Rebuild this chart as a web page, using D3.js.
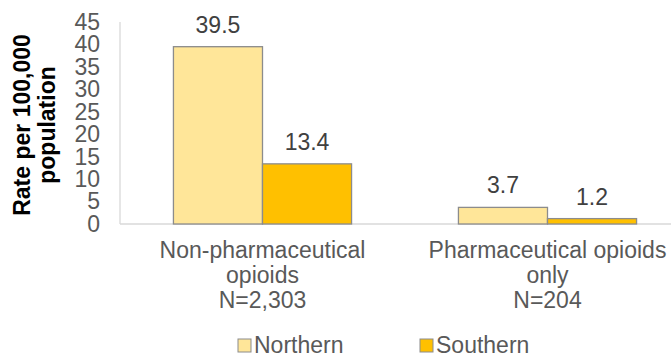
<!DOCTYPE html>
<html><head><meta charset="utf-8">
<script src="https://cdn.jsdelivr.net/npm/d3@7"></script>
<style>
html,body{margin:0;padding:0;background:#fff;}
text{font-family:"Liberation Sans",Arial,sans-serif;}
</style></head>
<body>
<script>
const categories = [["Non-pharmaceutical","opioids","N=2,303"],["Pharmaceutical opioids","only","N=204"]];
const categoryKeys = ["Non-pharmaceutical opioids","Pharmaceutical opioids only"];
const seriesNames = ["Northern","Southern"];
const northern = [39.5, 3.7];
const southern = [13.4, 1.2];
const yTicks = [0,5,10,15,20,25,30,35,40,45];
const colors = ["#FFE699","#FFC000"];

const W = 671, H = 356;
const FS = 23;
const svg = d3.select("body").append("svg").attr("width",W).attr("height",H);

const y = d3.scaleLinear().domain([0,45]).range([224,22]);
const x0 = d3.scaleBand().domain(categoryKeys).range([120,690]).padding(0);
const x1 = d3.scaleBand().domain(seriesNames).range([0,x0.bandwidth()]).paddingInner(0).paddingOuter(0.6);

const textColor = "#595959";
// axes lines
svg.append("line").attr("x1",120).attr("x2",120).attr("y1",y(45)).attr("y2",y(0)).attr("stroke","#d9d9d9").attr("stroke-width",1.3);
svg.append("line").attr("x1",120).attr("x2",W).attr("y1",y(0)).attr("y2",y(0)).attr("stroke","#d9d9d9").attr("stroke-width",1.3);

// y tick labels
const yAxis = d3.axisLeft(y).tickValues(yTicks).tickSize(0).tickPadding(0);
const ga = svg.append("g").attr("transform","translate(100,0)").call(yAxis);
ga.select(".domain").remove();
ga.selectAll("text").attr("font-size",FS).attr("fill",textColor).attr("font-family","Liberation Sans, Arial, sans-serif");

// bars
const data = categoryKeys.map((c,i)=>({cat:c, vals:[{s:"Northern",v:northern[i]},{s:"Southern",v:southern[i]}]}));
const g = svg.selectAll("g.grp").data(data).enter().append("g").attr("class","grp")
  .attr("transform",d=>`translate(${x0(d.cat)},0)`);
g.selectAll("rect").data(d=>d.vals).enter().append("rect")
  .attr("x",d=>x1(d.s)).attr("width",x1.bandwidth())
  .attr("y",d=>y(d.v)).attr("height",d=>y(0)-y(d.v))
  .attr("fill",(d,i)=>colors[i]).attr("stroke","#8c8c8c").attr("stroke-width",1.3);
g.selectAll("text.val").data(d=>d.vals).enter().append("text").attr("class","val")
  .attr("x",d=>x1(d.s)+x1.bandwidth()/2).attr("y",d=>y(d.v)-14)
  .attr("text-anchor","middle").attr("font-size",FS).attr("fill","#404040")
  .text(d=>d.v.toFixed(1));

// category labels
categoryKeys.forEach((c,i)=>{
  const t = svg.append("text").attr("text-anchor","middle").attr("font-size",FS).attr("fill",textColor);
  categories[i].forEach((line,j)=>{
    t.append("tspan").attr("x",x0(c)+x0.bandwidth()/2).attr("y",258+j*25).text(line);
  });
});

// y title
const yt = svg.append("text").attr("transform","translate(0,125) rotate(-90)")
  .attr("text-anchor","middle").attr("font-size",23).attr("font-weight","bold").attr("fill","#000");
yt.append("tspan").attr("x",0).attr("y",30).text("Rate per 100,000");
yt.append("tspan").attr("x",0).attr("y",55).text("population");

// legend
const legX = [238, 420];
seriesNames.forEach((s,i)=>{
  svg.append("rect").attr("x",legX[i]).attr("y",339).attr("width",13).attr("height",13)
    .attr("fill",colors[i]).attr("stroke","#8c8c8c").attr("stroke-width",1);
  svg.append("text").attr("x",legX[i]+16).attr("y",353).attr("font-size",FS).attr("fill",textColor).text(s);
});
</script>
</body></html>
